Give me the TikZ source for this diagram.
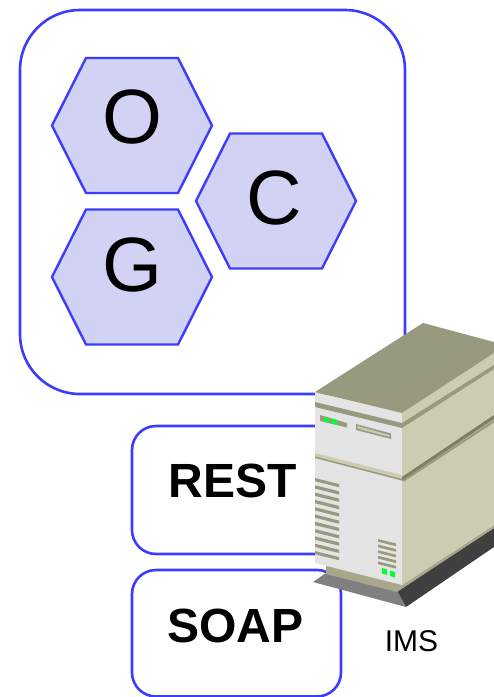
\documentclass[tikz,border=0pt]{standalone}
\usepackage{fontspec}
\setmainfont{Liberation Sans}
\definecolor{bl}{HTML}{3C3CFF}
\definecolor{hexfill}{HTML}{D2D2F4}
\definecolor{srvfront}{HTML}{E4E4E4}
\definecolor{srvside}{HTML}{CDCCB2}
\definecolor{srvtop}{HTML}{999980}
\definecolor{srvline}{HTML}{7F7F66}
\definecolor{srvbase}{HTML}{A8A78C}
\definecolor{skirt}{HTML}{808080}
\definecolor{skirtdark}{HTML}{404040}
\definecolor{led}{HTML}{00FF33}
\tikzset{
  x=1pt,y=-1pt,
  panel/.style={draw=bl,line width=2.6pt,fill=white},
  hexa/.style={draw=bl,line width=2.4pt,fill=hexfill,line join=miter},
  letter/.style={inner sep=0pt,font=\fontsize{77}{77}\selectfont},
  api/.style={inner sep=0pt,font=\fontsize{48}{48}\selectfont\bfseries},
  servercaption/.style={inner sep=0pt,font=\fontsize{30}{30}\selectfont},
  ledbox/.style={fill=led},
  vent/.style={fill=srvtop},
}
\newcommand{\hexat}[2]{\draw[hexa] (#1-80,#2) -- (#1-46,#2-67.5) -- (#1+46,#2-67.5) -- (#1+80,#2) -- (#1+46,#2+67.5) -- (#1-46,#2+67.5) -- cycle;}
\begin{document}
\begin{tikzpicture}
\useasboundingbox (0,0) rectangle (494,697);
\begin{scope}
\clip (0,0) rectangle (494,697);
% outer panel
\draw[panel,rounded corners=60pt] (20,10) rectangle (405,394);
% hexagons
\hexat{132}{125.5}
\hexat{276}{201}
\hexat{132}{277}
\node[letter] (o) at (132.5,117) {O};
\node[letter] (c) at (274.5,198) {C};
\node[letter] (g) at (132.5,265) {G};
% interface boxes
\draw[panel,rounded corners=24pt] (132,426) rectangle (341,554);
\draw[panel,rounded corners=24pt] (132,570) rectangle (341,696.5);
\node[api] (rest) at (232.5,481) {REST};
\node[api] (soap) at (235.5,626) {SOAP};
% server: skirt
\fill[skirtdark] (397,591) -- (494,528) -- (494,547) -- (406,607) -- cycle;
\fill[skirt] (313,582) -- (326,573) -- (397,591) -- (406,607) -- cycle;
\fill[srvbase] (326,563) -- (402,580) -- (402,585) -- (397,592) -- (326,574) -- cycle;
\fill[srvbase] (397,592) -- (402,585) -- (494,525) -- (494,528) -- cycle;
% server: body
\fill[srvfront] (315,392) -- (402,413) -- (402,585) -- (315,563) -- cycle;
\fill[srvside] (402,413) -- (494,353) -- (494,525) -- (402,585) -- cycle;
\fill[srvtop] (315,392) -- (423,323) -- (494,342) -- (494,353) -- (402,413) -- cycle;
% upper band
\fill[srvtop] (315,402) -- (402,423) -- (494,365) -- (494,369) -- (402,428) -- (315,407) -- cycle;
% middle band
\fill[srvside] (315,453) -- (402,475) -- (402,480.5) -- (315,458) -- cycle;
\fill[srvtop] (315,456.5) -- (402,479) -- (402,480.5) -- (315,458) -- cycle;
\fill[srvtop] (402,480.5) -- (494,420) -- (494,422.5) -- (404,481.5) -- cycle;
\fill[srvline] (402,477) -- (494,415) -- (494,419) -- (402,480.5) -- cycle;
% indicator panel
\fill[srvtop] (320,415) -- (347,423) -- (347,427.5) -- (320,421) -- cycle;
\fill[ledbox] (324,417) -- (329,418) -- (329,423) -- (324,421.5) -- cycle;
\fill[ledbox] (332,418.5) -- (337,420) -- (337,425) -- (332,423.5) -- cycle;
% slot
\fill[srvtop] (356,424) -- (391,433.5) -- (391,439) -- (356,430) -- cycle;
\fill[srvside] (357.5,426) -- (389.5,435) -- (389.5,437) -- (357.5,428.5) -- cycle;
% left vent
\foreach \i in {0,...,10}{
  \fill[vent] (315,478+7.3*\i) -- (339,484+7.3*\i) -- (339,487.3+7.3*\i) -- (315,481.3+7.3*\i) -- cycle;
}
% small vent
\foreach \i in {0,...,4}{
  \fill[vent] (378,539+5.6*\i) -- (396,543.5+5.6*\i) -- (396,546.2+5.6*\i) -- (378,541.7+5.6*\i) -- cycle;
}
% lower lights
\fill[ledbox] (382,568) -- (387,569.5) -- (387,575) -- (382,573.5) -- cycle;
\fill[ledbox] (390,570.5) -- (395,572) -- (395,577.5) -- (390,576) -- cycle;
\end{scope}
\node[servercaption] (ims) at (411.5,641) {IMS};
\end{tikzpicture}
\end{document}
